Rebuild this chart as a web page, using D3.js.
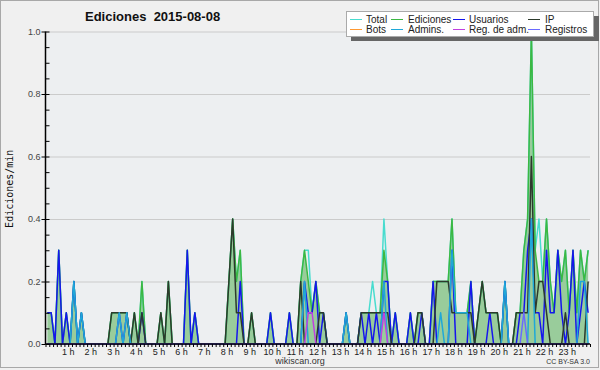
<html lang="es">
<head>
<meta charset="utf-8">
<style>
	body { margin: 0; background: #f0f0f0; }
	text { font-family: "Liberation Sans", Arial, sans-serif; }
	text.mono { font-family: "DejaVu Sans Mono", monospace; }
</style>
</head>
<body>
<svg width="600" height="370"></svg>
<script src="https://d3js.org/d3.v7.min.js"></script>
<script>
	// ediciones por minuto, tramos de 10 minutos (6 por hora)
	var total = [
		.1,.1,0,.3,0,.1,  0,.2,0,.1,0,0,  0,0,0,0,0,.1,  .1,.1,.1,.1,0,.1,
		0,.2,0,0,0,0,  .1,0,.2,0,0,0,  0,.3,0,.1,0,0,  0,0,0,0,0,0,
		.2,.4,.2,.3,0,0,  .1,0,0,0,0,.1,  0,0,0,0,.1,0,  0,.2,.3,.3,.1,.2,
		.1,.1,0,0,0,0,  0,.1,0,0,0,.1,  .1,.1,.2,.1,.1,.4,  .2,0,.1,0,0,0,
		.1,0,.1,.1,0,0,  .2,.2,.2,.2,.2,.4,  .1,.1,.1,.1,.2,0,  .1,.2,.1,.1,.1,.1,
		0,.2,0,0,.1,.1,  .3,.4,1.0,.3,.4,.2,  .4,.2,.1,.3,.2,.3,  .1,.3,.1,.3,.2,.3
	];
	var ediciones = [
		.1,.1,0,.3,0,.1,  0,.2,0,.1,0,0,  0,0,0,0,0,.1,  .1,.1,.1,.1,0,.1,
		0,.2,0,0,0,0,  .1,0,.2,0,0,0,  0,.3,0,.1,0,0,  0,0,0,0,0,0,
		.2,.4,.2,.3,0,0,  .1,0,0,0,0,.1,  0,0,0,0,.1,0,  0,.2,.3,.2,.1,.2,
		.1,.1,0,0,0,0,  0,.1,0,0,0,.1,  .1,.1,.1,.1,.1,.3,  .2,0,.1,0,0,0,
		.1,0,.1,.1,0,0,  .2,.2,.2,.2,.2,.4,  .1,.1,.1,.1,.2,0,  .1,.2,.1,.1,.1,.1,
		0,.2,0,0,.1,.1,  .3,.4,1.0,.3,.2,.2,  .4,.2,.1,.3,.2,.3,  .1,.3,.1,.3,.2,.3
	];
	var usuarios = [
		.1,.1,0,.3,0,.1,  0,.2,0,.1,0,0,  0,0,0,0,0,0,  0,.1,0,.1,0,0,
		0,.1,0,0,0,0,  0,0,0,0,0,0,  0,.3,0,.1,0,0,  0,0,0,0,0,0,
		0,0,0,.2,0,0,  0,0,0,0,0,.1,  0,0,0,0,.1,0,  0,0,.2,.1,.1,.2,
		0,.1,0,0,0,0,  0,.1,0,0,0,.1,  0,.1,0,.1,0,.2,  .2,0,.1,0,0,0,
		.1,0,0,.1,0,0,  .2,0,0,0,0,.3,  0,0,0,0,.2,0,  0,0,0,.1,0,0,
		0,.2,0,0,0,.1,  .1,.3,.4,.1,.1,0,  .3,.1,.1,.3,.1,0,  .1,.3,0,.1,.2,.1
	];
	var ip = [
		0,0,0,0,0,0,  0,0,0,0,0,0,  0,0,0,0,0,.1,  .1,.1,.1,.1,0,.1,
		0,.1,0,0,0,0,  .1,0,.2,0,0,0,  0,0,0,0,0,0,  0,0,0,0,0,0,
		.2,.4,.1,.1,0,0,  .1,0,0,0,0,0,  0,0,0,0,0,0,  0,.2,0,0,0,0,
		.1,.1,0,0,0,0,  0,0,0,0,0,.1,  .1,.1,.1,.1,.1,.1,  .1,0,0,0,0,0,
		0,0,.1,.1,0,0,  0,.2,.2,.2,.2,.1,  .1,.1,.1,.1,.1,0,  .1,.2,.1,.1,.1,.1,
		0,0,0,0,.1,.1,  .1,.1,.6,.1,.2,.2,  .1,0,0,0,0,.1,  0,0,0,0,0,.2
	];
	var bots = d3.range(144).map(function() { return 0; });
	var admins = [
		0,0,0,0,0,0,  0,.2,0,.1,0,0,  0,0,0,0,0,0,  0,.1,0,.1,0,0,
		0,0,0,0,0,0,  0,0,0,0,0,0,  0,0,0,0,0,0,  0,0,0,0,0,0,
		0,0,0,0,0,0,  0,0,0,0,0,0,  0,0,0,0,0,0,  0,0,.2,0,0,0,
		0,0,0,0,0,0,  0,.1,0,0,0,0,  0,0,0,0,0,.2,  0,0,0,0,0,0,
		0,0,0,0,0,0,  0,0,.1,0,0,.3,  .1,.1,.1,.1,0,0,  0,0,0,0,0,0,
		0,.2,0,0,0,0,  0,0,.4,0,0,0,  0,0,0,0,0,0,  0,0,0,.2,.2,0
	];
	var regAdm = [
		0,0,0,0,0,0,  0,0,0,0,0,0,  0,0,0,0,0,0,  0,0,0,0,0,0,
		0,0,0,0,0,0,  0,0,0,0,0,0,  0,0,0,0,0,0,  0,0,0,0,0,0,
		0,0,0,0,0,0,  0,0,0,0,0,0,  0,0,0,0,0,0,  0,0,0,.1,.1,0,
		0,0,0,0,0,0,  0,0,0,0,0,0,  0,0,0,0,0,.1,  0,0,0,0,0,0,
		0,0,0,0,0,0,  0,0,0,0,0,0,  0,0,0,0,0,0,  0,0,0,0,0,0,
		0,0,0,0,0,0,  0,0,0,0,0,0,  0,0,0,0,0,0,  0,0,0,0,0,0
	];
	var registros = [
		0,0,0,0,0,0,  0,0,0,0,0,0,  0,0,0,0,0,0,  0,0,0,0,0,0,
		0,0,0,0,0,0,  0,0,0,0,0,0,  0,0,0,0,0,0,  0,0,0,0,0,0,
		0,0,0,0,0,0,  0,0,0,0,0,0,  0,0,0,0,0,0,  0,0,0,0,0,0,
		0,0,0,0,0,0,  0,0,0,0,0,0,  0,0,0,0,0,0,  0,0,0,0,0,0,
		0,0,0,0,0,0,  0,0,0,0,0,0,  0,0,0,0,0,0,  0,0,0,0,0,0,
		0,0,0,0,0,0,  .1,0,0,0,0,0,  0,0,0,0,0,0,  0,0,0,0,0,0
	];
	var hourLabels = d3.range(1, 24).map(function(h) { return h + " h"; });
	var yTicks = [0, 0.2, 0.4, 0.6, 0.8, 1.0];

	var series = [
		{name: "Total", values: total, color: "#48dccf"},
		{name: "Ediciones", values: ediciones, color: "#3cb843"},
		{name: "Usuarios", values: usuarios, color: "#1515ee"},
		{name: "IP", values: ip, color: "#2c3a2c"},
		{name: "Bots", values: bots, color: "#ff9933"},
		{name: "Admins.", values: admins, color: "#1fa8d8"},
		{name: "Reg. de adm.", values: regAdm, color: "#c040e0"},
		{name: "Registros", values: registros, color: "#6a6aff"}
	];
	var legendOrder = ["Total", "Ediciones", "Usuarios", "IP", "Bots", "Admins.", "Reg. de adm.", "Registros"];

	var svg = d3.select("svg");
	var pLeft = 45.5, pRight = 590, pTop = 31.5, pBottom = 344;

	svg.append("rect").attr("x", 0.5).attr("y", 0.5).attr("width", 598).attr("height", 367)
		.attr("fill", "#f0f0f0").attr("stroke", "#a8a8a8");

	var x = d3.scaleLinear().domain([0, 1440]).range([pLeft, pRight]);
	var y = d3.scaleLinear().domain([0, 1]).range([pBottom, pTop]);
	function tmin(i) { return i * 10 + 5; }

	svg.append("rect").attr("x", pLeft).attr("y", pTop).attr("width", pRight - pLeft).attr("height", pBottom - pTop)
		.attr("fill", "#edeff1");

	// rejilla
	svg.append("g").selectAll("line").data(yTicks.slice(1)).enter().append("line")
		.attr("x1", pLeft).attr("x2", pRight)
		.attr("y1", function(d) { return y(d) + 0.5; }).attr("y2", function(d) { return y(d) + 0.5; })
		.attr("stroke", "#cbcbcb");

	// area verde
	var area = d3.area()
		.x(function(d, i) { return x(tmin(i)); })
		.y0(y(0))
		.y1(function(d) { return y(d); });
	svg.append("path").datum(ediciones).attr("d", area).attr("fill", "#99cc9b");

	var line = d3.line()
		.x(function(d, i) { return x(tmin(i)); })
		.y(function(d) { return y(d); });
	svg.append("g").selectAll("path").data(series).enter().append("path")
		.attr("d", function(s) { return line(s.values); })
		.attr("fill", "none")
		.attr("stroke", function(s) { return s.color; })
		.attr("stroke-width", 1.5)
		.attr("stroke-linejoin", "round");

	// eje y
	var gy = svg.append("g").attr("transform", "translate(" + pLeft + ",0)");
	gy.call(d3.axisLeft(y).tickValues(d3.range(0, 1.001, 0.05)).tickSize(-4).tickFormat(""));
	gy.append("g").call(d3.axisLeft(y).tickValues(yTicks).tickSize(4).tickPadding(1).tickFormat(d3.format(".1f")));
	gy.selectAll(".domain").remove();
	gy.selectAll("line").attr("stroke", "#000");
	gy.selectAll("text").attr("font-size", "9px").attr("fill", "#444").attr("font-family", null);
	gy.append("line").attr("y1", pTop).attr("y2", pBottom).attr("stroke", "#000").attr("stroke-width", 1.5);

	// eje x
	var gx = svg.append("g").attr("transform", "translate(0," + pBottom + ")");
	gx.call(d3.axisBottom(x).tickValues(d3.range(0, 1441, 10)).tickSize(3).tickFormat(""));
	gx.select(".domain").remove();
	gx.selectAll("line").attr("stroke", "#000");
	gx.append("line").attr("x1", pLeft).attr("x2", pRight).attr("stroke", "#000").attr("stroke-width", 1.5);
	gx.selectAll(".hl").data(hourLabels).enter().append("text")
		.attr("class", "hl")
		.attr("x", function(d, i) { return x((i + 1) * 60); })
		.attr("y", 11)
		.attr("text-anchor", "middle")
		.attr("font-size", "9px")
		.attr("fill", "#222")
		.text(function(d) { return d; });

	svg.append("text")
		.attr("class", "mono")
		.attr("transform", "translate(13," + ((pTop + pBottom) / 2 + 1) + ") rotate(-90)")
		.attr("text-anchor", "middle")
		.attr("font-size", "10px")
		.attr("fill", "#111")
		.text("Ediciones/min");

	svg.append("text")
		.attr("x", 85).attr("y", 21)
		.attr("font-size", "13px")
		.attr("font-weight", "bold")
		.attr("fill", "#111")
		.attr("xml:space", "preserve")
		.text("Ediciones  2015-08-08");

	// leyenda
	var lg = svg.append("g");
	lg.append("rect").attr("x", 351).attr("y", 16).attr("width", 248).attr("height", 25).attr("fill", "#666");
	lg.append("rect").attr("x", 346.5).attr("y", 11.5).attr("width", 247).attr("height", 25)
		.attr("fill", "#fff").attr("stroke", "#aaa");
	var colX = [350, 391, 453, 528];
	var colText = [366, 408, 469, 545];
	legendOrder.forEach(function(name, k) {
		var s = series.find(function(d) { return d.name === name; });
		var c = k % 4, r = Math.floor(k / 4);
		var ly = 19.5 + r * 10;
		lg.append("line").attr("x1", colX[c]).attr("x2", colX[c] + 12)
			.attr("y1", ly).attr("y2", ly).attr("stroke", s.color);
		lg.append("text").attr("x", colText[c]).attr("y", ly + 3.5)
			.attr("font-size", "10px").attr("fill", "#222").text(name);
	});

	svg.append("text").attr("x", 300).attr("y", 364).attr("text-anchor", "middle")
		.attr("font-size", "9px").attr("fill", "#333").text("wikiscan.org");
	svg.append("text").attr("x", 590).attr("y", 364).attr("text-anchor", "end")
		.attr("font-size", "7px").attr("fill", "#333").text("CC BY-SA 3.0");
</script>
</body>
</html>
